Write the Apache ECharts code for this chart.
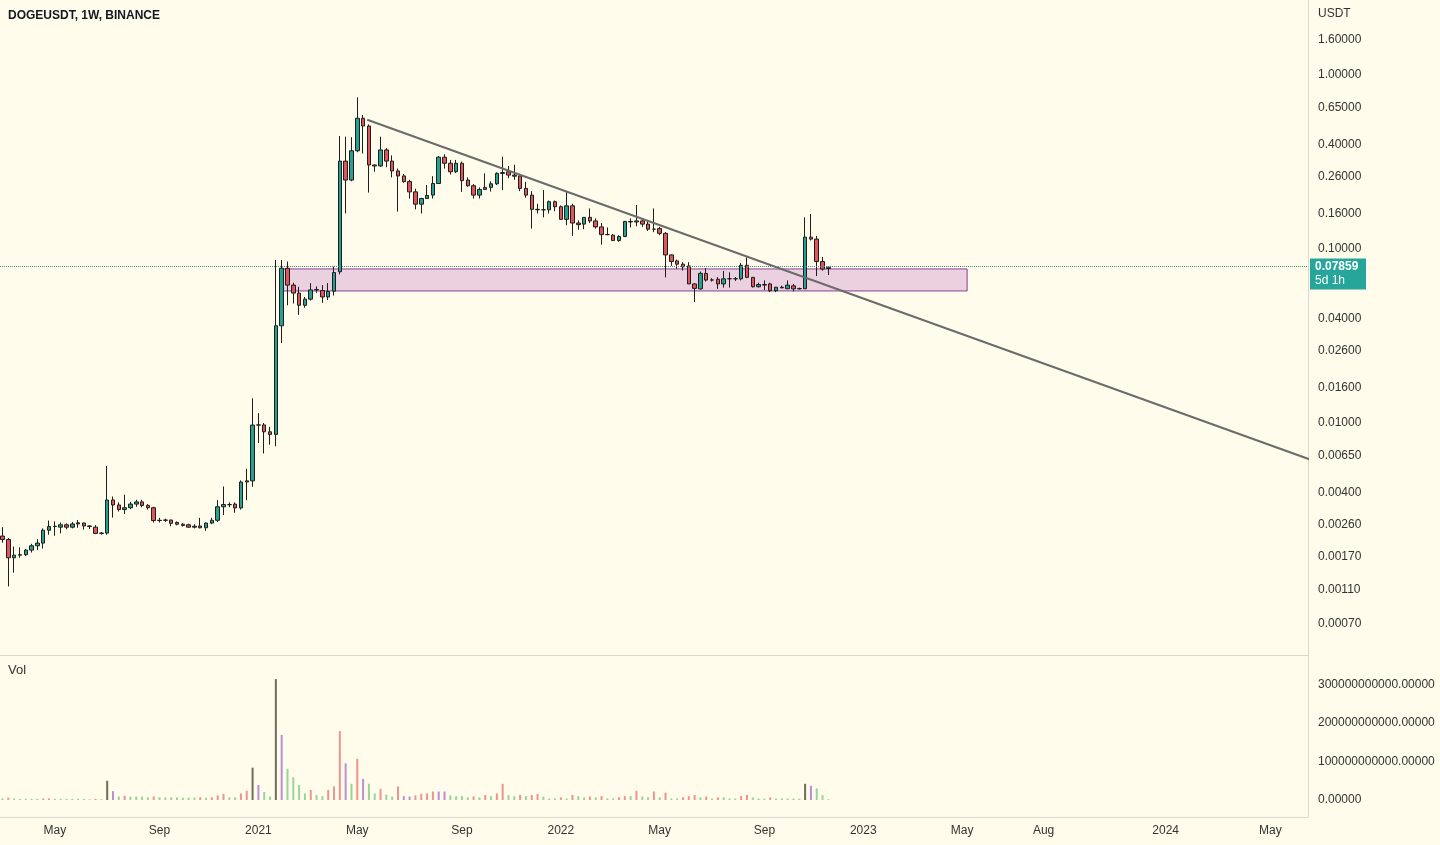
<!DOCTYPE html>
<html><head><meta charset="utf-8">
<script src="https://cdn.jsdelivr.net/npm/echarts@6/dist/echarts.min.js"></script>
<style>html,body{margin:0;padding:0;background:#fffceb;}#c{width:1440px;height:845px;}</style>
</head><body><div id="c"></div>
<script>
// ---------- DATA (weekly candles, first week starts 2020-03-02) ----------
const firstWeek = '2020-03-02';
const opens = [
0.00224,0.00214,0.00168,0.00174,0.00175,0.00186,0.00197,0.00204,0.00242,0.00254,
0.00252,0.00260,0.00252,0.00263,0.00266,0.00256,0.00252,0.00232,0.00233,0.00361,
0.00338,0.00318,0.00326,0.00342,0.00352,0.00336,0.00326,0.00275,0.00276,0.00277,
0.00268,0.00262,0.00260,0.00252,0.00256,0.00250,0.00266,0.00276,0.00330,0.00340,
0.00342,0.00325,0.00458,0.00465,0.00973,0.00975,0.00890,0.00860,0.0362,0.0775,
0.0620,0.0558,0.0475,0.0515,0.0582,0.0577,0.0530,0.0572,0.0740,0.320,
0.249,0.367,0.564,0.509,0.304,0.300,0.371,0.320,0.281,0.263,
0.244,0.213,0.181,0.195,0.204,0.238,0.337,0.311,0.278,0.311,
0.249,0.231,0.204,0.220,0.226,0.237,0.272,0.278,0.266,0.263,
0.223,0.204,0.169,0.168,0.168,0.187,0.175,0.148,0.177,0.141,
0.139,0.152,0.145,0.134,0.121,0.120,0.112,0.118,0.144,0.143,
0.145,0.139,0.130,0.131,0.123,0.0925,0.0854,0.0818,0.0799,0.0630,
0.0590,0.0724,0.0663,0.0670,0.0630,0.0674,0.0675,0.0674,0.0806,0.0687,
0.0607,0.0625,0.0630,0.0576,0.0603,0.0591,0.0614,0.0590,0.0591,0.117,
0.114,0.0847,0.0772];
const highs = [
0.00252,0.00218,0.00195,0.00193,0.00189,0.00202,0.00215,0.00248,0.00275,0.00272,
0.00268,0.00265,0.00270,0.00277,0.00268,0.00259,0.00259,0.00236,0.00566,0.00378,
0.00350,0.00387,0.00352,0.00362,0.00362,0.00342,0.00330,0.00285,0.00282,0.00278,
0.00272,0.00266,0.00264,0.00262,0.00285,0.00268,0.00285,0.00360,0.00432,0.00350,
0.00350,0.00468,0.00545,0.01387,0.01140,0.01000,0.00950,0.0865,0.0865,0.0846,
0.0640,0.0607,0.0530,0.0637,0.0610,0.0620,0.0637,0.0791,0.446,0.442,
0.439,0.744,0.589,0.520,0.306,0.442,0.380,0.345,0.290,0.270,
0.250,0.222,0.197,0.233,0.262,0.342,0.350,0.325,0.325,0.318,
0.258,0.236,0.226,0.272,0.245,0.276,0.339,0.300,0.305,0.270,
0.243,0.215,0.182,0.218,0.190,0.190,0.178,0.213,0.182,0.146,
0.152,0.171,0.150,0.141,0.133,0.122,0.120,0.145,0.150,0.179,
0.150,0.146,0.171,0.134,0.125,0.0930,0.0870,0.0840,0.0840,0.0635,
0.0742,0.0777,0.0680,0.0690,0.0748,0.0735,0.0690,0.0830,0.0896,0.0690,
0.0640,0.0660,0.0640,0.0605,0.0615,0.0660,0.0630,0.0600,0.152,0.159,
0.119,0.0900,0.0790];
const lows = [
0.00205,0.00115,0.00138,0.00168,0.00172,0.00180,0.00186,0.00190,0.00228,0.00225,
0.00232,0.00245,0.00248,0.00250,0.00244,0.00246,0.00230,0.00228,0.00228,0.00286,
0.00310,0.00300,0.00320,0.00330,0.00328,0.00318,0.00268,0.00268,0.00270,0.00255,
0.00258,0.00254,0.00250,0.00248,0.00248,0.00240,0.00262,0.00270,0.00296,0.00328,
0.00305,0.00318,0.00360,0.00430,0.00768,0.00668,0.00751,0.00735,0.0288,0.0475,
0.0486,0.0418,0.0460,0.0505,0.0560,0.0490,0.0509,0.0540,0.0715,0.160,
0.245,0.360,0.354,0.211,0.278,0.297,0.295,0.258,0.164,0.240,
0.195,0.169,0.160,0.195,0.195,0.236,0.290,0.268,0.273,0.213,
0.228,0.195,0.195,0.218,0.214,0.233,0.218,0.255,0.250,0.215,
0.197,0.131,0.160,0.152,0.160,0.165,0.147,0.137,0.119,0.129,
0.130,0.141,0.131,0.106,0.120,0.111,0.110,0.117,0.133,0.135,
0.134,0.127,0.125,0.120,0.0687,0.0800,0.0770,0.0752,0.0630,0.0496,
0.0585,0.0650,0.0650,0.0590,0.0600,0.0600,0.0655,0.0660,0.0680,0.0600,
0.0600,0.0580,0.0565,0.0565,0.0595,0.0588,0.0570,0.0585,0.0588,0.112,
0.0699,0.0750,0.0709];
const closes = [
0.00214,0.00168,0.00174,0.00175,0.00186,0.00197,0.00204,0.00242,0.00254,0.00255,
0.00260,0.00252,0.00263,0.00267,0.00256,0.00254,0.00232,0.00233,0.00361,0.00338,
0.00318,0.00326,0.00342,0.00352,0.00336,0.00326,0.00275,0.00276,0.00277,0.00265,
0.00262,0.00258,0.00252,0.00255,0.00250,0.00266,0.00276,0.00330,0.00340,0.00339,
0.00325,0.00458,0.00465,0.00973,0.00975,0.00890,0.00860,0.0362,0.0775,0.0620,
0.0558,0.0475,0.0515,0.0582,0.0585,0.0530,0.0570,0.0732,0.320,0.249,
0.367,0.564,0.509,0.304,0.300,0.371,0.320,0.281,0.263,0.244,
0.213,0.181,0.195,0.203,0.238,0.337,0.311,0.278,0.311,0.247,
0.231,0.204,0.220,0.226,0.237,0.272,0.275,0.266,0.262,0.223,
0.204,0.169,0.168,0.168,0.187,0.175,0.148,0.177,0.141,0.138,
0.152,0.145,0.134,0.121,0.121,0.112,0.118,0.144,0.143,0.145,
0.139,0.130,0.130,0.123,0.0925,0.0847,0.0818,0.0790,0.0630,0.0594,
0.0724,0.0663,0.0664,0.0630,0.0674,0.0675,0.0674,0.0806,0.0687,0.0607,
0.0625,0.0620,0.0576,0.0603,0.0598,0.0620,0.0590,0.0593,0.117,0.114,
0.0847,0.0767,0.07859];
// weekly volume, in billions of DOGE
const volumesB = [
4,6,4,3,3,3,3,4,4,3,
3,3,3,3,3,2,3,2,50,23,
9,11,9,9,9,7,9,7,7,7,
7,6,6,6,7,6,7,12,16,7,
7,17,24,84,39,21,9,314,169,81,
59,39,17,26,13,10,26,35,179,95,
42,107,55,42,17,29,14,9,35,10,
9,12,16,17,22,22,22,12,10,10,
7,9,7,13,10,17,42,13,10,13,
10,13,16,9,4,4,7,4,13,10,
7,9,7,10,4,4,7,10,10,24,
9,7,22,7,19,4,4,7,10,13,
7,9,4,7,7,4,4,10,13,7,
4,4,7,4,4,4,4,3.5,42,37,
30,13,2];
// volume bar signal: k = spike, p = high/fading, r = rising, g = falling
const volSignal = (
'grgggggrrg'+'ggggggrgkp'+'grggggrggg'+'ggggrgrrrg'+'grrkpggkpg'+
'gggrggrrrp'+'grpggrggrp'+'prrrrppggg'+'grgrgrrggr'+'grrgggrgrg'+
'grgrggrrgr'+'ggrgrggrrr'+'grgrgggrrg'+'ggrgggggkp'+'ggg').split('');

const priceTicks = [1.6,1.0,0.65,0.4,0.26,0.16,0.1,0.04,0.026,0.016,0.01,0.0065,0.004,0.0026,0.0017,0.0011,0.0007];
const volTicks = [0,100e9,200e9,300e9];
const timeTicks = ['2020-05-04','2020-09-07','2021-01-04','2021-05-03','2021-09-06','2022-01-03','2022-05-02','2022-09-05','2023-01-02','2023-05-01','2023-08-07','2024-01-01','2024-05-06'];
const lastPrice = 0.07859;
const countdown = '5d 1h';
const trendDates = ['2021-05-15','2024-06-24'];
const trendPrices = [0.553, 0.00614];
const zoneDates = ['2021-02-03','2023-05-07'];
const zonePrices = [0.0768, 0.0574];

// ---------- BUILD ----------
const WEEK = 7*864e5;
const DAY = 864e5;
const toT = s => Date.parse(s + 'T00:00:00Z');
const lg = v => Math.log10(v);
const t0 = toT(firstWeek);
const times = opens.map((_, k) => t0 + k*WEEK);
const PXW = 5.816;            // pixels per week
const xMin = t0 - (2.5/PXW)*WEEK;
const xMax = xMin + (1308/PXW)*WEEK;
const MONTHS = ['Jan','Feb','Mar','Apr','May','Jun','Jul','Aug','Sep','Oct','Nov','Dec'];
const FONT = '"Liberation Sans", Arial, sans-serif';
const AXC = '#dcd9cc';
const TXT = '#333333';
const VOLCOL = {k:'#6f6c58', p:'#bb8ed6', r:'#ee938d', g:'#98d49b'};

const candleData = times.map((t,k)=>[t, lg(opens[k]), lg(closes[k]), lg(lows[k]), lg(highs[k])]);
const volData = times.map((t,k)=>({value:[t, volumesB[k]*1e9], itemStyle:{color:VOLCOL[volSignal[k]]}}));

const chart = echarts.init(document.getElementById('c'), null, {renderer:'canvas'});
chart.setOption({
  animation:false,
  backgroundColor:'#fffceb',
  textStyle:{fontFamily:FONT},
  title:[
    {text:'DOGEUSDT, 1W, BINANCE', left:8, top:10, padding:0, textStyle:{fontSize:12, fontWeight:'bold', color:'#131722', fontFamily:FONT}},
    {text:'USDT', left:1318, top:8, padding:0, textStyle:{fontSize:12, fontWeight:'normal', color:TXT, fontFamily:FONT}},
    {text:'Vol', left:8, top:664, padding:0, textStyle:{fontSize:13, fontWeight:'normal', color:TXT, fontFamily:FONT}}
  ],
  grid:[
    {left:0, top:0, width:1308, height:655},
    {left:0, top:655, width:1308, height:162}
  ],
  xAxis:[
    {type:'value', gridIndex:0, min:xMin, max:xMax, axisLine:{show:true, onZero:false, lineStyle:{color:AXC}}, axisTick:{show:false}, axisLabel:{show:false}, splitLine:{show:false}},
    {type:'value', gridIndex:1, min:xMin, max:xMax, axisLine:{show:true, onZero:false, lineStyle:{color:AXC}}, axisTick:{show:false}, splitLine:{show:false},
     axisLabel:{customValues:timeTicks.map(toT), color:TXT, fontSize:12, margin:8, fontFamily:FONT,
       formatter:v=>{const d=new Date(v+DAY/2); return d.getUTCMonth()===0? String(d.getUTCFullYear()) : MONTHS[d.getUTCMonth()];}}}
  ],
  yAxis:[
    {type:'value', gridIndex:0, position:'right', min:(75-655)/174, max:75/174,
     axisLine:{show:true, onZero:false, lineStyle:{color:AXC}}, axisTick:{show:false}, splitLine:{show:false},
     axisLabel:{customValues:priceTicks.map(lg), formatter:v=>Math.pow(10,v).toFixed(5), color:TXT, fontSize:12, margin:10, fontFamily:FONT, padding:[2,0,0,0]}},
    {type:'value', gridIndex:1, position:'right', min:-(17/38.5)*100e9, max:(145/38.5)*100e9,
     axisLine:{show:true, onZero:false, lineStyle:{color:AXC}}, axisTick:{show:false}, splitLine:{show:false},
     axisLabel:{customValues:volTicks, formatter:v=>Number(v).toFixed(5), color:TXT, fontSize:12, margin:10, fontFamily:FONT, padding:[2,0,0,0]}}
  ],
  series:[
    {type:'candlestick', name:'DOGEUSDT', xAxisIndex:0, yAxisIndex:0, data:candleData, encode:{x:0, y:[1,2,3,4]},
     barWidth:4, z:2,
     itemStyle:{color:'#26a08f', color0:'#e0545b', borderColor:'#1e1e1e', borderColor0:'#1e1e1e', borderColorDoji:'#1e1e1e', borderWidth:1},
     markArea:{silent:true, z:1,
       itemStyle:{color:'rgba(156,39,176,0.2)', borderColor:'#8e3d9c', borderWidth:1},
       data:[[{coord:[toT(zoneDates[0]), lg(zonePrices[0])]},{coord:[toT(zoneDates[1]), lg(zonePrices[1])]}]]},
     markLine:{silent:true, symbol:['none','none'], animation:false,
       lineStyle:{type:'dotted', color:'#3f9488', width:1},
       data:[{yAxis:lg(lastPrice)}],
       label:{show:true, position:'end', distance:2,
         formatter:()=>'{e|}\n{a|'+lastPrice.toFixed(5)+'}\n{b|'+countdown+'}',
         rich:{
           e:{height:15, lineHeight:15},
           a:{color:'#ffffff', fontWeight:'bold', fontSize:12, fontFamily:FONT, backgroundColor:'#26a69a', width:46, height:15, lineHeight:15, padding:[1,5,0,5]},
           b:{color:'#ffffff', fontSize:12, fontFamily:FONT, backgroundColor:'#26a69a', width:46, height:15, lineHeight:15, padding:[0,5,1,5]}
         }}}
    },
    {type:'line', name:'trend', xAxisIndex:0, yAxisIndex:0, z:4, symbol:'none', silent:true, clip:true,
     data:trendDates.map((d,k)=>[toT(d), lg(trendPrices[k])]),
     lineStyle:{color:'#6b6b6b', width:2}},
    {type:'bar', name:'Vol', xAxisIndex:1, yAxisIndex:1, data:volData, barWidth:2}
  ]
});
</script></body></html>
